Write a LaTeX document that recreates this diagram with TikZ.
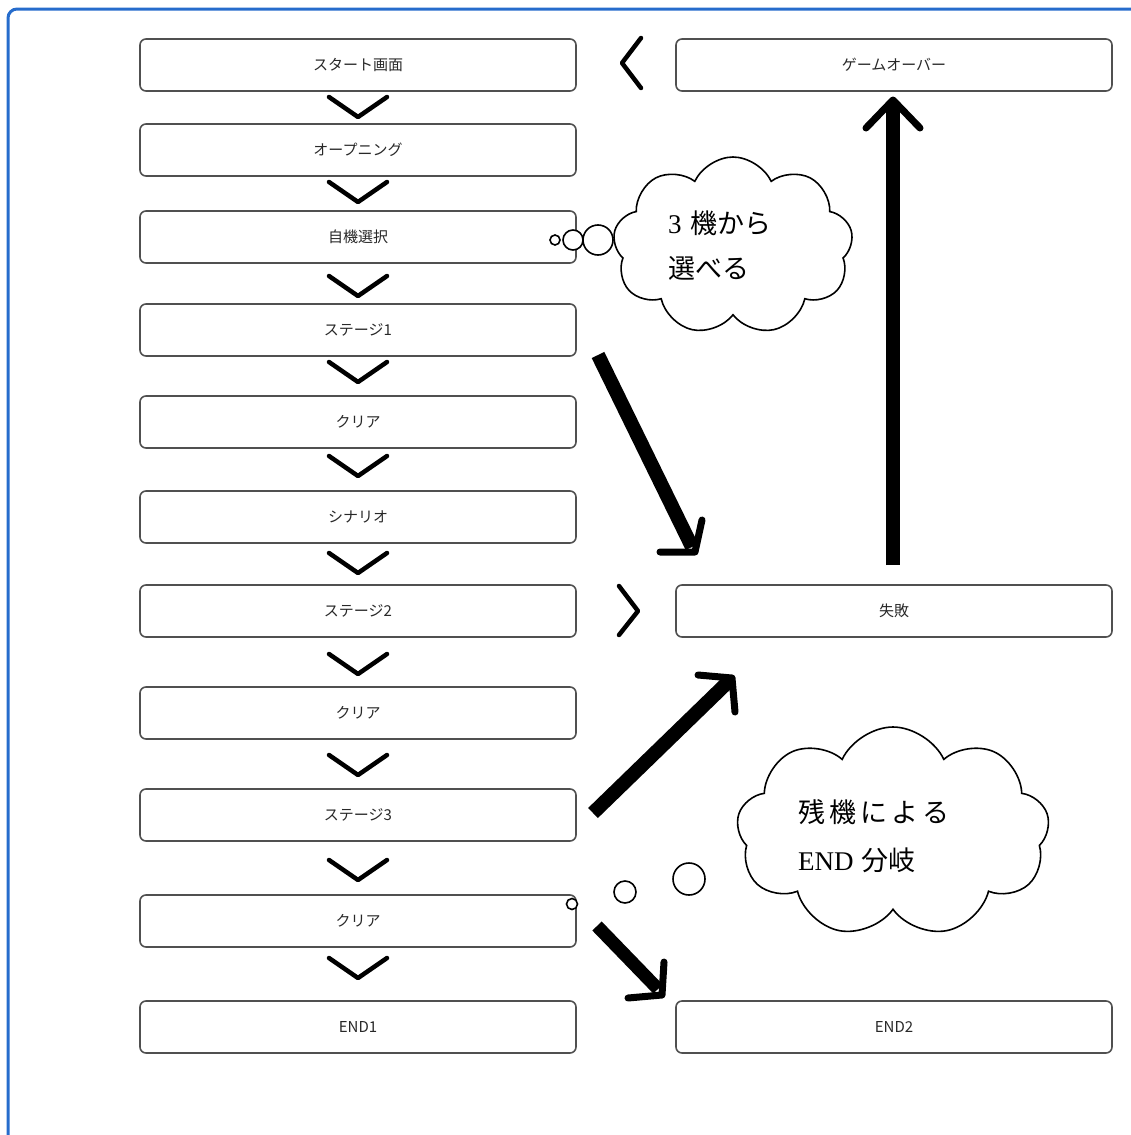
\documentclass[tikz,border=0pt]{standalone}
\usepackage{fontspec}
\newfontfamily\jp{Noto Sans CJK JP}
\newfontfamily\latin{Liberation Serif}
\usetikzlibrary{shapes.symbols}
\definecolor{frameblue}{RGB}{38,108,204}
\definecolor{boxline}{RGB}{80,80,80}
\definecolor{boxtext}{RGB}{40,40,40}
\begin{document}
\begin{tikzpicture}[x=1pt,y=-1pt,
  stagebox/.style={draw=boxline, line width=1.6pt, rounded corners=6pt,
    minimum width=436pt, minimum height=52pt, inner sep=0pt,
    font=\jp\fontsize{15}{15}\selectfont, text=boxtext},
  chevron/.style={line width=4.5pt, line cap=round, line join=round},
  shaft/.style={line width=14pt},
  barb/.style={line width=7pt, line cap=round, line join=round},
  thought/.style={cloud, cloud puffs=9, cloud puff arc=130, draw,
    line width=1.6pt, inner sep=0pt, fill=white},
  bubble/.style={circle, draw, line width=1.6pt, inner sep=0pt, fill=white},
  cloudtext/.style={anchor=west, inner sep=0pt, font=\fontsize{27}{27}\selectfont}
]
\useasboundingbox (0,0) rectangle (1131,1135);
% outer frame
\draw[frameblue, line width=3pt, rounded corners=9pt] (8,1135) -- (8,9) -- (1131,9);

% main flow
\node[stagebox] (start)  at (358,65)   {スタート画面};
\node[stagebox] (open)   at (358,150)  {オープニング};
\node[stagebox] (select) at (358,237)  {自機選択};
\node[stagebox] (st1)    at (358,330)  {ステージ1};
\node[stagebox] (cl1)    at (358,422)  {クリア};
\node[stagebox] (scen)   at (358,517)  {シナリオ};
\node[stagebox] (st2)    at (358,611)  {ステージ2};
\node[stagebox] (cl2)    at (358,713)  {クリア};
\node[stagebox] (st3)    at (358,815)  {ステージ3};
\node[stagebox] (cl3)    at (358,921)  {クリア};
\node[stagebox] (end1)   at (358,1027) {END1};

% right column
\node[stagebox] (over)   at (894,65)   {ゲームオーバー};
\node[stagebox] (fail)   at (894,611)  {失敗};
\node[stagebox] (end2)   at (894,1027) {END2};

% chevrons between the steps
\foreach \cy in {107,192,286,372,466,563,664,765,870,968}
  \draw[chevron] (329,\cy-10) -- (358,\cy+10) -- (387,\cy-10);
\draw[chevron] (641,38) -- (622,63) -- (641,88);
\draw[chevron] (619,586) -- (638,611) -- (619,635);

% thick arrows
\coordinate (a1s) at (598,355);
\coordinate (a1e) at (692,547);
\draw[shaft] (a1s) -- (a1e);
\draw[barb] (660,552) -- (695,552) -- (702,520);

\coordinate (a2s) at (893,565);
\coordinate (a2e) at (893,104);
\draw[shaft] (a2s) -- (a2e);
\draw[barb] (866,128) -- (893,100) -- (920,128);

\coordinate (a3s) at (593,813);
\coordinate (a3e) at (729,681);
\draw[shaft] (a3s) -- (a3e);
\draw[barb] (698,675) -- (732,678) -- (735,712);

\coordinate (a4s) at (597,926);
\coordinate (a4e) at (658,989);
\draw[shaft, line width=13pt] (a4s) -- (a4e);
\draw[barb] (628,998) -- (662,995) -- (664,962);

% thought cloud: choice of ship
\node[thought, minimum width=240pt, minimum height=178pt] (cloudA) at (733,246) {};
\node[bubble, minimum size=10pt] (bA1) at (555,240) {};
\node[bubble, minimum size=20pt] (bA2) at (573,240) {};
\node[bubble, minimum size=30pt] (bA3) at (598,240) {};
\node[cloudtext] (tA1) at (668,223) {{\latin 3}\hspace{9pt}{\jp 機から}};
\node[cloudtext] (tA2) at (668,268) {{\jp 選べる}};

% thought cloud: ending branch
\node[thought, minimum width=313pt, minimum height=210pt] (cloudB) at (893,832) {};
\node[bubble, minimum size=11pt] (bB1) at (572,904) {};
\node[bubble, minimum size=22pt] (bB2) at (625,892) {};
\node[bubble, minimum size=32pt] (bB3) at (689,879) {};
\node[cloudtext] (tB1) at (798,812) {\jp 残\kern4pt 機\kern4pt に\kern4pt よ\kern4pt る};
\node[cloudtext] (tB2) at (798,860) {{\latin END}\hspace{8pt}{\jp 分岐}};
\end{tikzpicture}
\end{document}
